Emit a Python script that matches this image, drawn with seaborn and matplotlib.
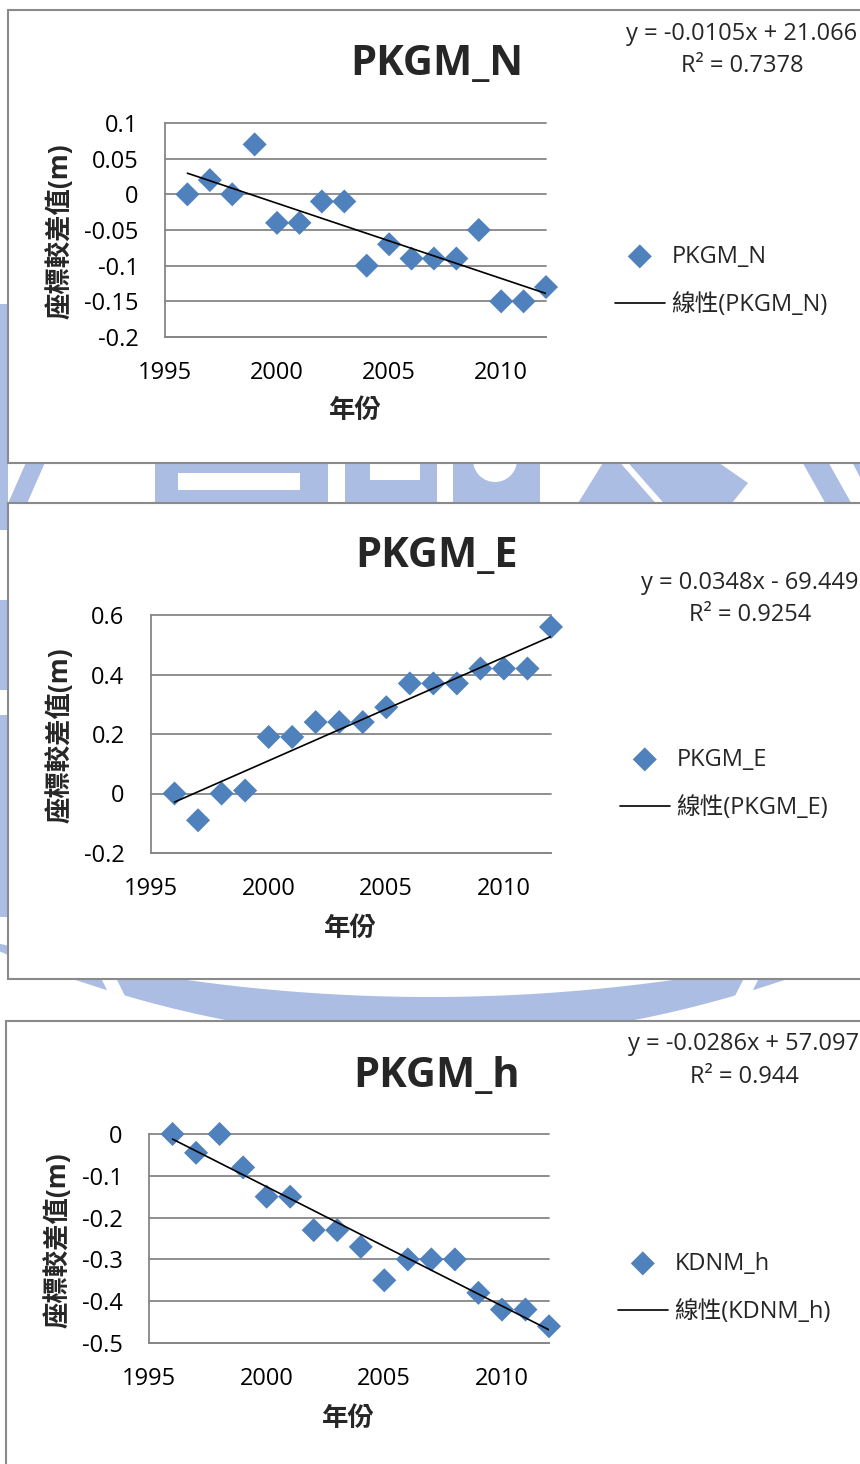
import numpy as np
import pandas as pd
import matplotlib
matplotlib.use("Agg")
import matplotlib.pyplot as plt
from matplotlib.patches import Rectangle, Polygon, Circle
from matplotlib.ticker import FuncFormatter
import seaborn as sns

# ---- data -------------------------------------------------------------
years = list(range(1996, 2013))
pkgm_n = [0.00, 0.02, 0.00, 0.07, -0.04, -0.04, -0.01, -0.01, -0.10,
          -0.07, -0.09, -0.09, -0.09, -0.05, -0.15, -0.15, -0.13]
pkgm_e = [0.00, -0.09, 0.00, 0.01, 0.19, 0.19, 0.24, 0.24, 0.24,
          0.29, 0.37, 0.37, 0.37, 0.42, 0.42, 0.42, 0.56]
pkgm_h = [0.00, -0.045, 0.00, -0.08, -0.15, -0.15, -0.23, -0.23, -0.27,
          -0.35, -0.30, -0.30, -0.30, -0.38, -0.42, -0.42, -0.46]

titles = ["PKGM_N", "PKGM_E", "PKGM_h"]
series_names = ["PKGM_N", "PKGM_E", "KDNM_h"]
equations = ["y = -0.0105x + 21.066", "y = 0.0348x - 69.449", "y = -0.0286x + 57.097"]
r_squared = ["R² = 0.7378", "R² = 0.9254", "R² = 0.944"]
y_limits = [(-0.2, 0.1), (-0.2, 0.6), (-0.5, 0.0)]
y_steps = [0.05, 0.2, 0.1]
x_limits = (1995, 2012)
x_ticks = [1995, 2000, 2005, 2010]
y_label = "座標較差值(m)"
x_label = "年份"
trend_prefix = "線性"

# ---- style ------------------------------------------------------------
sns.set_style("white")
plt.rcParams["font.family"] = ["Open Sans", "Noto Sans CJK TC", "DejaVu Sans"]

W, H = 860, 1464
MARK = "#4F81BD"
GRID = "#868686"
FRAME = "#8a8a8a"
WM = "#abbde3"
FS = 17

fig = plt.figure(figsize=(W / 100, H / 100), dpi=100)


def fx(x):
    return x / W


def fy(y):
    return 1 - y / H


# background layer in pixel units (y downward)
bg = fig.add_axes([0, 0, 1, 1])
bg.set_xlim(0, W)
bg.set_ylim(H, 0)
bg.axis("off")


def shape(pts, color=WM):
    bg.add_patch(Polygon(pts, closed=True, facecolor=color, edgecolor="none"))


def box(x0, y0, x1, y1, color=WM):
    bg.add_patch(Rectangle((x0, y0), x1 - x0, y1 - y0, facecolor=color, edgecolor="none"))


# faint emblem behind the chart cards
for y0, y1 in [(304, 530), (600, 690), (715, 917)]:
    box(0, y0, 8, y1)

shape([(28, 458), (47, 458), (25, 508), (6, 508)])
box(155, 458, 178, 508)
box(178, 458, 300, 473)
box(178, 490, 300, 508)
box(300, 458, 328, 508)
box(345, 458, 437, 508)
box(370, 458, 420, 480, "white")
box(453, 458, 540, 508)
bg.add_patch(Circle((495, 460), 22, facecolor="white", edgecolor="none"))
shape([(575, 508), (606, 458), (712, 458), (748, 483), (728, 508)])
shape([(616, 458), (624, 458), (668, 508), (660, 508)], "white")
shape([(800, 458), (826, 458), (854, 508), (828, 508)])
shape([(850, 458), (870, 458), (870, 508), (876, 508)])

xs = np.linspace(-30, 890, 300)
y_in = 997 - 2.88e-4 * (xs - 430) ** 2
y_out = 1040 - 4.78e-4 * (xs - 430) ** 2
band = list(zip(xs, y_in)) + list(zip(xs[::-1], y_out[::-1]))
shape(band)
shape([(97, 970), (112, 970), (142, 1030), (127, 1030)], "white")
shape([(763, 970), (748, 970), (718, 1030), (733, 1030)], "white")

# chart cards
for (x0, y0, h) in [(8, 10, 453), (8, 503, 476), (6, 1021, 500)]:
    bg.add_patch(Rectangle((x0, y0), 900, h, facecolor="white",
                           edgecolor=FRAME, linewidth=1.5))

# ---- panels -----------------------------------------------------------
panels = [
    dict(vals=pkgm_n, ax=(165, 546, 123, 337), title=(437, 65), eq=(742, 34, 66),
         leg=(615, 281), ylab=(60, 231), xlab=(355, 411)),
    dict(vals=pkgm_e, ax=(151, 551, 615, 853), title=(437, 557), eq=(750, 583, 615),
         leg=(620, 784), ylab=(60, 735), xlab=(350, 929)),
    dict(vals=pkgm_h, ax=(149, 549, 1134, 1343), title=(437, 1076), eq=(744, 1044, 1077),
         leg=(618, 1288), ylab=(58, 1240), xlab=(348, 1418)),
]


def fmt(v, _pos):
    v = round(v, 4)
    if abs(v) < 1e-9:
        return "0"
    return f"{v:g}"


for i, p in enumerate(panels):
    L, R, T, B = p["ax"]
    ax = fig.add_axes([fx(L), fy(B), (R - L) / W, (B - T) / H])
    ax.set_facecolor("none")
    df = pd.DataFrame({"year": years, "value": p["vals"]})

    sns.scatterplot(data=df, x="year", y="value", marker="D", s=150, color=MARK,
                    edgecolor="none", linewidth=0, ax=ax, zorder=2, clip_on=False)
    sns.regplot(data=df, x="year", y="value", scatter=False, ci=None, truncate=True,
                color="black", line_kws={"lw": 1.2, "zorder": 3}, ax=ax)

    lo, hi = y_limits[i]
    ax.set_xlim(*x_limits)
    ax.set_ylim(lo, hi)
    ax.set_xticks(x_ticks)
    ax.set_yticks(np.arange(lo, hi + y_steps[i] / 2, y_steps[i]))
    ax.yaxis.set_major_formatter(FuncFormatter(fmt))
    ax.set_xlabel("")
    ax.set_ylabel("")
    ax.grid(False)
    ax.yaxis.grid(True, color=GRID, linewidth=1.3)
    for gl in ax.get_ygridlines():
        gl.set_clip_on(False)
    ax.set_axisbelow(True)
    for s in ["top", "right"]:
        ax.spines[s].set_visible(False)
    for s in ["left", "bottom"]:
        ax.spines[s].set_color(GRID)
        ax.spines[s].set_linewidth(1.3)
    ax.tick_params(axis="both", length=0, labelsize=FS, colors="black")
    ax.tick_params(axis="y", pad=19)
    ax.tick_params(axis="x", pad=17)

    fig.text(fx(p["title"][0]), fy(p["title"][1]), titles[i], ha="center", va="center",
             fontsize=30, fontweight="bold")
    ex, ey1, ey2 = p["eq"]
    fig.text(fx(ex), fy(ey1), equations[i], ha="center", va="center", fontsize=FS)
    fig.text(fx(ex), fy(ey2), r_squared[i], ha="center", va="center", fontsize=FS)
    fig.text(fx(p["ylab"][0]), fy(p["ylab"][1]), y_label, rotation=90, ha="center",
             va="center", fontsize=19, fontweight="bold")
    fig.text(fx(p["xlab"][0]), fy(p["xlab"][1]), x_label, ha="center", va="center",
             fontsize=19, fontweight="bold")

    handles = [ax.collections[0], ax.lines[0]]
    labels = [series_names[i], f"{trend_prefix}({series_names[i]})"]
    fig.legend(handles, labels, loc="center left",
               bbox_to_anchor=(fx(p["leg"][0]), fy(p["leg"][1])),
               frameon=False, fontsize=FS, handlelength=2.1, handletextpad=0.3,
               labelspacing=1.05, borderpad=0, borderaxespad=0, scatterpoints=1)

fig.savefig("out.png", dpi=100)
